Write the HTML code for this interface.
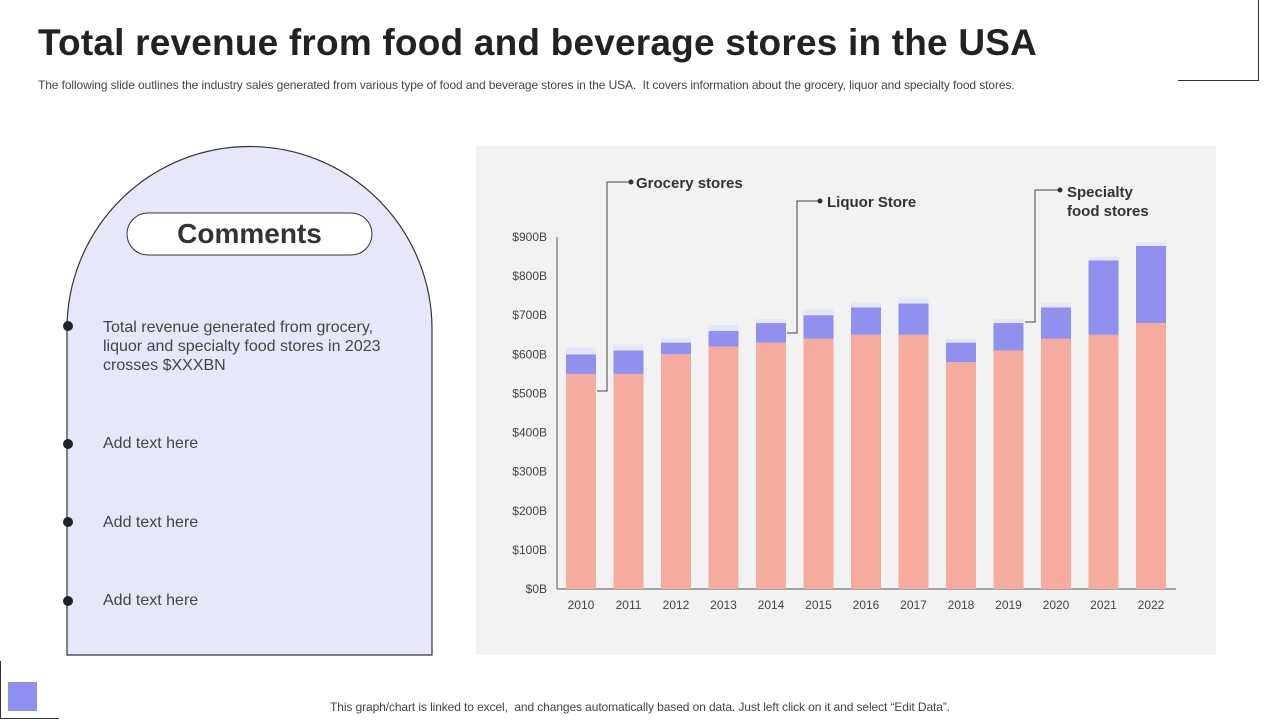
<!DOCTYPE html>
<html><head><meta charset="utf-8"><style>
body{margin:0;width:1280px;height:720px;background:#fff;position:relative;overflow:hidden;font-family:"Liberation Sans",Arial,sans-serif;color:#333}
.abs{position:absolute}
</style></head><body>
<div class="abs" style="left:38px;top:22px;font-size:37px;font-weight:bold;color:#222;letter-spacing:0.2px">Total revenue from food and beverage stores in the USA</div>
<div class="abs" style="left:38px;top:78px;font-size:12px;color:#444;letter-spacing:-0.1px">The following slide outlines the industry sales generated from various type of food and beverage stores in the USA.&nbsp; It covers information about the grocery, liquor and specialty food stores.</div>
<div class="abs" style="left:1178px;top:0;width:80px;height:80px;border-right:1.5px solid #333;border-bottom:1.5px solid #333"></div>
<div class="abs" style="left:0;top:661px;width:58px;height:57px;border-left:1.5px solid #333;border-bottom:1.5px solid #333"></div>
<div class="abs" style="left:8px;top:682px;width:29px;height:29px;background:#8f8ff0"></div>
<svg class="abs" style="left:0;top:0" width="480" height="720">
<path d="M67,655 L67,329 A182.5,182.5 0 0 1 432,329 L432,655 Z" fill="#e6e8fa" stroke="#333" stroke-width="1.2"/>
<rect x="127" y="213" width="245" height="42" rx="21" fill="#fff" stroke="#333" stroke-width="1"/>
<circle cx="68" cy="326" r="5" fill="#222"/><circle cx="68" cy="444" r="5" fill="#222"/><circle cx="68" cy="522" r="5" fill="#222"/><circle cx="68" cy="601" r="5" fill="#222"/>
</svg>
<div class="abs" style="left:127px;top:218px;width:245px;text-align:center;font-size:28px;font-weight:bold;color:#333">Comments</div>
<div class="abs" style="left:103px;top:318px;width:300px;font-size:16px;line-height:19px;color:#444">Total revenue generated from grocery, liquor and specialty food stores in 2023 crosses $XXXBN</div>
<div class="abs" style="left:103px;top:435px;font-size:16px;color:#444">Add text here</div>
<div class="abs" style="left:103px;top:514px;font-size:16px;color:#444">Add text here</div>
<div class="abs" style="left:103px;top:592px;font-size:16px;color:#444">Add text here</div>
<svg class="abs" id="chart" style="left:0;top:0" width="1280" height="720">
<rect x="476" y="146" width="740" height="509" fill="#f2f2f2"/>
</svg>
<div class="abs" style="left:0;width:1280px;top:700px;text-align:center;font-size:12px;color:#444;letter-spacing:-0.1px">This graph/chart is linked to excel,&nbsp; and changes automatically based on data. Just left click on it and select “Edit Data”.</div>
<script>
const years=["2010","2011","2012","2013","2014","2015","2016","2017","2018","2019","2020","2021","2022"];
const grocery=[550,550,600,620,630,640,650,650,580,610,640,650,680];
const liquor=[50,60,30,40,50,60,70,80,50,70,80,190,197];
const specialty=[18,15,12,15,10,15,12,15,10,10,12,10,10];
const yTicks=[0,100,200,300,400,500,600,700,800,900];
const svg=document.getElementById('chart');
const NS='http://www.w3.org/2000/svg';
const y0=589,yTop=237,yMax=900;
const Y=v=>y0-(y0-yTop)*v/yMax;
const X=i=>581+i*47.5;
const bw=30;
function mk(t,a){const e=document.createElementNS(NS,t);for(const k in a)e.setAttribute(k,a[k]);svg.appendChild(e);return e;}
const ax=mk('line',{x1:557,y1:yTop,x2:557,y2:y0,stroke:'#555','stroke-width':1});


const xa=mk('line',{x1:557,y1:y0,x2:1176,y2:y0,stroke:'#555','stroke-width':1});


yTicks.forEach(v=>{const t=mk('text',{x:547,y:Y(v)+4,'text-anchor':'end','font-size':12,fill:'#444','font-family':'Liberation Sans, sans-serif'});t.textContent='$'+v+'B';

});
years.forEach((yr,i)=>{
 const g=grocery[i],l=liquor[i],s=specialty[i];
 const r1=mk('rect',{x:X(i)-bw/2,y:Y(g),width:bw,height:Y(0)-Y(g),fill:'#f5ab9e'});
 
 
 const r2=mk('rect',{x:X(i)-bw/2,y:Y(g+l),width:bw,height:Y(g)-Y(g+l),fill:'#9090ee'});
 
 
 const r3=mk('rect',{x:X(i)-bw/2,y:Y(g+l+s),width:bw,height:Y(g+l)-Y(g+l+s),fill:'#e4e6fa'});
 
 
 const t=mk('text',{x:X(i),y:609,'text-anchor':'middle','font-size':12,fill:'#444','font-family':'Liberation Sans, sans-serif'});t.textContent=yr;
 
 
});
function callout(pts,lx,ly,lines,name){
 mk('polyline',{points:pts,fill:'none',stroke:'#444','stroke-width':1});
 const p=pts.split(' ').pop().split(',');
 mk('circle',{cx:p[0],cy:p[1],r:2.5,fill:'#333'});
 lines.forEach((s,k)=>{const t=mk('text',{x:lx,y:ly+k*19,'font-size':15,'font-weight':'bold',fill:'#333','font-family':'Liberation Sans, sans-serif'});t.textContent=s;
 
 });
}
callout('597,391 607,391 607,182 631,182',636,188,['Grocery stores'],'legend-grocery');
callout('787,333 797,333 797,201 820,201',827,207,['Liquor Store'],'legend-liquor');
callout('1025,322 1035,322 1035,190 1060,190',1067,197,['Specialty',' food stores'],'legend-specialty');
</script>
</body></html>
